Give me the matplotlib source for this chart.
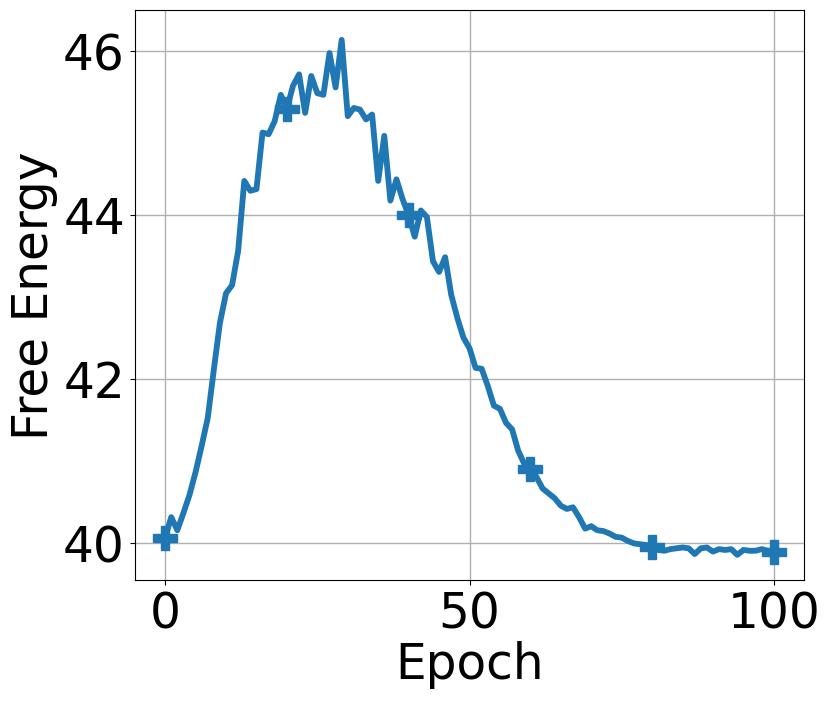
import numpy as np
import matplotlib
matplotlib.use('Agg')
import matplotlib.pyplot as plt

# free energy per epoch
epochs = list(range(101))
free_energy = [
    40.07, 40.32, 40.16, 40.37, 40.59, 40.87, 41.19, 41.53, 42.12, 42.69,
    43.05, 43.15, 43.57, 44.42, 44.30, 44.32, 45.01, 44.99, 45.15, 45.47,
    45.30, 45.58, 45.72, 45.25, 45.70, 45.49, 45.47, 45.98, 45.56, 46.14,
    45.21, 45.31, 45.29, 45.17, 45.23, 44.42, 44.97, 44.18, 44.44, 44.20,
    44.00, 43.74, 44.06, 43.98, 43.44, 43.31, 43.49, 43.03, 42.75, 42.51,
    42.38, 42.14, 42.13, 41.92, 41.68, 41.64, 41.47, 41.39, 41.13, 40.97,
    40.91, 40.81, 40.67, 40.61, 40.55, 40.46, 40.42, 40.44, 40.32, 40.18,
    40.21, 40.16, 40.15, 40.12, 40.08, 40.07, 40.03, 40.00, 39.99, 39.98,
    39.96, 39.92, 39.91, 39.93, 39.94, 39.95, 39.94, 39.87, 39.94, 39.95,
    39.90, 39.93, 39.92, 39.93, 39.86, 39.92, 39.91, 39.91, 39.93, 39.91,
    39.90,
]
x_ticks = [0, 50, 100]
y_ticks = [40, 42, 44, 46]

fig = plt.figure(figsize=(8.3, 7.01), dpi=100)
ax = fig.add_axes([0.1623, 0.1722, 0.806, 0.813])

ax.plot(epochs, free_energy, color='#1f77b4', linewidth=4.2,
        marker='P', markersize=17, markevery=20)

ax.set_xticks(x_ticks)
ax.set_yticks(y_ticks)
ax.set_xlim(-5.0, 104.9)
ax.set_ylim(39.55, 46.5)
ax.grid(True, color='#b0b0b0', linewidth=1)
ax.tick_params(labelsize=35)
ax.set_xlabel('Epoch', fontsize=35, labelpad=2)
ax.set_ylabel('Free Energy', fontsize=35)

fig.savefig('out.png', dpi=100)
